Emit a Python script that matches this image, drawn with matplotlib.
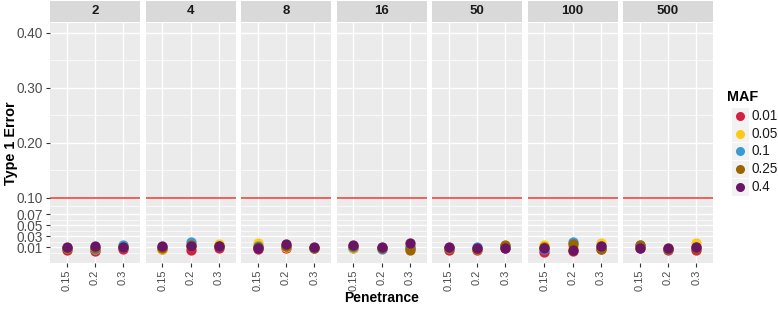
import matplotlib
matplotlib.use("Agg")
import matplotlib.pyplot as plt
from matplotlib.patches import Rectangle
from matplotlib.lines import Line2D

plt.rcParams["font.family"] = ["Liberation Sans", "DejaVu Sans"]

# ---- data ----
sample_sizes = ["2", "4", "8", "16", "50", "100", "500"]
penetrance = ["0.15", "0.2", "0.3"]
maf_levels = ["0.01", "0.05", "0.1", "0.25", "0.4"]
maf_colors = ["#D4213D", "#FFC914", "#3A9AD3", "#9B6500", "#6A1466"]

# Type 1 error per MAF, ordered panel by panel (2,4,8,16,50,100,500), penetrance 0.15,0.2,0.3
err_maf_001 = [0.005, 0.003, 0.007, 0.006, 0.005, 0.008, 0.006, 0.009, 0.008,
               0.009, 0.008, 0.009, 0.005, 0.005, 0.008, 0.001, 0.003, 0.007,
               0.008, 0.005, 0.004]
err_maf_005 = [0.008, 0.007, 0.010, 0.007, 0.012, 0.016, 0.018, 0.010, 0.009,
               0.008, 0.009, 0.012, 0.008, 0.006, 0.012, 0.014, 0.010, 0.018,
               0.010, 0.008, 0.017]
err_maf_01 = [0.008, 0.006, 0.013, 0.010, 0.019, 0.011, 0.012, 0.011, 0.009,
              0.010, 0.007, 0.010, 0.009, 0.010, 0.011, 0.006, 0.019, 0.012,
              0.014, 0.007, 0.010]
err_maf_025 = [0.009, 0.009, 0.010, 0.009, 0.014, 0.012, 0.010, 0.012, 0.008,
               0.011, 0.008, 0.005, 0.008, 0.007, 0.014, 0.010, 0.016, 0.007,
               0.013, 0.006, 0.008]
err_maf_04 = [0.010, 0.012, 0.010, 0.011, 0.011, 0.012, 0.008, 0.015, 0.010,
              0.014, 0.010, 0.017, 0.010, 0.009, 0.009, 0.008, 0.005, 0.011,
              0.008, 0.009, 0.010]
series = [err_maf_001, err_maf_005, err_maf_01, err_maf_025, err_maf_04]

y_ticks = [0.01, 0.03, 0.05, 0.07, 0.10, 0.20, 0.30, 0.40]
y_minor = [0.0, 0.02, 0.04, 0.06, 0.085, 0.15, 0.25, 0.35]
alpha_line = 0.10

# ---- layout ----
W, H = 778, 309
fig = plt.figure(figsize=(W / 100, H / 100), dpi=100)
fig.patch.set_facecolor("white")

panel_left0 = 50
panel_w = 90
panel_step = 95.5
panel_top = 23
panel_bot = 263
strip_top = 1

ylim = (0.01 - (panel_bot - 247) / 550, 0.40 + (33 - panel_top) / 550)

for i, ss in enumerate(sample_sizes):
    x0 = panel_left0 + i * panel_step
    ax = fig.add_axes([x0 / W, 1 - panel_bot / H, panel_w / W, (panel_bot - panel_top) / H])
    ax.set_facecolor("#EBEBEB")
    for s in ax.spines.values():
        s.set_visible(False)
    ax.set_xlim(0.4, 3.6)
    ax.set_ylim(*ylim)
    for yv in y_minor:
        ax.axhline(yv, color="white", lw=0.5, zorder=0)
    for yv in y_ticks:
        ax.axhline(yv, color="white", lw=1.0, zorder=0)
    for xv in (1, 2, 3):
        ax.axvline(xv, color="white", lw=1.0, zorder=0)
    ax.axhline(alpha_line, color="#F2463F", lw=1.2, zorder=1)
    for vals, col in zip(series, maf_colors):
        ys = vals[i * 3:(i + 1) * 3]
        ax.scatter([1, 2, 3], ys, s=55, color=col, zorder=3, linewidths=0)
    ax.set_xticks([1, 2, 3])
    ax.set_xticklabels(penetrance, rotation=90, fontsize=8, color="#4D4D4D")
    ax.tick_params(axis="x", length=3, width=0.8, color="#333333", pad=2)
    ax.set_yticks(y_ticks)
    if i == 0:
        ax.set_yticklabels(["%.2f" % v for v in y_ticks], fontsize=9.8, color="#4D4D4D")
        ax.tick_params(axis="y", length=3, width=0.8, color="#333333", pad=2)
    else:
        ax.tick_params(axis="y", length=0, labelleft=False)
    # strip
    fig.patches.append(Rectangle((x0 / W, 1 - (panel_top - 1) / H), panel_w / W,
                                 (panel_top - 1 - strip_top) / H, transform=fig.transFigure,
                                 facecolor="#D9D9D9", edgecolor="none"))
    fig.text((x0 + panel_w / 2) / W, 1 - ((panel_top - 1 + strip_top) / 2) / H, ss,
             ha="center", va="center", fontsize=9.5, fontweight="bold", color="#1A1A1A")

# axis titles
fig.text((panel_left0 + (6 * panel_step + panel_w) / 2) / W, 1 - 298 / H, "Penetrance",
         ha="center", va="center", fontsize=10, fontweight="bold")
fig.text(11 / W, 1 - 143 / H, "Type 1 Error", rotation=90, ha="center", va="center",
         fontsize=10.4, fontweight="bold")

# legend
fig.text(727 / W, 1 - 97 / H, "MAF", ha="left", va="center", fontsize=10.4, fontweight="bold")
key_y = [116, 133.5, 151, 169, 187]
for lab, col, ky in zip(maf_levels, maf_colors, key_y):
    fig.patches.append(Rectangle(((740 - 8.5) / W, 1 - (ky + 8.5) / H), 17 / W, 17 / H,
                                 transform=fig.transFigure, facecolor="#F2F2F2", edgecolor="none"))
    fig.lines.append(Line2D([740 / W], [1 - ky / H], transform=fig.transFigure, marker="o",
                            markersize=6.5, color=col, markeredgewidth=0, linestyle="none"))
    fig.text(751 / W, 1 - ky / H, lab, ha="left", va="center", fontsize=9.8, color="#1A1A1A")

fig.savefig("out.png", dpi=100)
